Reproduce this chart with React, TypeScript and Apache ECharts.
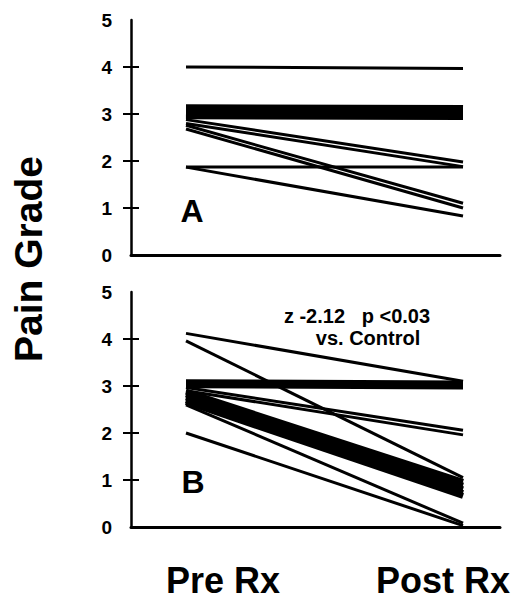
import React, { useEffect, useRef } from "react";
import * as echarts from "echarts";

// Pain grade per patient group, Pre Rx -> Post Rx (count = patients sharing the same course)
const panelAPre = [4.0, 3.05, 2.88, 2.8, 2.76, 2.68, 1.87, 1.87];
const panelAPost = [3.97, 3.03, 1.98, 1.88, 1.1, 1.0, 1.87, 0.83];
const panelACount = [1, 5, 1, 1, 1, 1, 1, 1];

const panelBPre = [4.12, 3.96, 3.05, 2.97, 2.9, 2.88, 2.82, 2.76, 2.7, 2.66, 2.6, 2.0];
const panelBPost = [3.1, 1.05, 3.02, 2.06, 1.96, 0.96, 0.88, 0.8, 0.72, 0.66, 0.08, 0.03];
const panelBCount = [1, 1, 3, 1, 1, 2, 2, 2, 2, 2, 1, 1];

const yTicks = [0, 1, 2, 3, 4, 5];
const innerTicks = [1, 2, 3, 4];
const timepoints = [1, 2]; // Pre Rx, Post Rx
const categoryLabels = ["Pre Rx", "Post Rx"];
const panelLabels = ["A", "B"];
const statLines = ["z -2.12   p <0.03", "vs. Control"];
const yTitle = "Pain Grade";

const FONT = '"Liberation Sans", Arial, Helvetica, sans-serif';

export default function App() {
  const ref = useRef<HTMLDivElement>(null);
  useEffect(() => {
    document.body.style.margin = "0";
    const chart = echarts.init(ref.current!, null, { renderer: "svg" });

    const grids = [
      { left: 131, top: 20, width: 369, height: 235 },
      { left: 131, top: 292, width: 369, height: 235 },
    ];

    const xAxes = grids.map((_, i) => ({
      type: "value",
      gridIndex: i,
      min: 0.8015,
      max: 2.1335,
      axisLine: { show: true, onZero: false, lineStyle: { color: "#000", width: 3 } },
      axisTick: { show: false },
      axisLabel: { show: false },
      splitLine: { show: false },
    }));

    const yAxes: any[] = [];
    grids.forEach((_, i) => {
      yAxes.push({
        type: "value",
        gridIndex: i,
        position: "left",
        min: yTicks[0],
        max: yTicks[yTicks.length - 1],
        interval: 1,
        axisLine: { show: true, lineStyle: { color: "#000", width: 2.5 } },
        axisTick: {
          show: true,
          length: 8,
          customValues: innerTicks,
          lineStyle: { color: "#000", width: 2 },
        },
        axisLabel: {
          color: "#000",
          fontFamily: FONT,
          fontWeight: "bold",
          fontSize: 19,
          margin: 19,
        },
        splitLine: { show: false },
      });
      yAxes.push({
        type: "value",
        gridIndex: i,
        position: "left",
        min: yTicks[0],
        max: yTicks[yTicks.length - 1],
        interval: 1,
        axisLine: { show: false },
        axisTick: {
          show: true,
          inside: true,
          length: 8,
          customValues: innerTicks,
          lineStyle: { color: "#000", width: 2 },
        },
        axisLabel: { show: false },
        splitLine: { show: false },
      });
    });

    const series: any[] = [];
    const addPanel = (pre: number[], post: number[], count: number[], gi: number) => {
      pre.forEach((p, k) => {
        series.push({
          type: "line",
          xAxisIndex: gi,
          yAxisIndex: gi * 2,
          symbol: "none",
          silent: true,
          lineStyle: { color: "#000", width: 3 * count[k] },
          data: [
            [timepoints[0], p],
            [timepoints[1], post[k]],
          ],
        });
      });
    };
    addPanel(panelAPre, panelAPost, panelACount, 0);
    addPanel(panelBPre, panelBPost, panelBCount, 1);

    const txt = (text: string, x: number, y: number, size: number, extra: any = {}) => ({
      type: "text",
      x,
      y,
      ...extra,
      style: {
        text,
        fontFamily: FONT,
        fontWeight: "bold",
        fontSize: size,
        fill: "#000",
        align: "center",
        verticalAlign: "middle",
      },
    });

    const graphic: any[] = [
      txt(yTitle, 28, 259, 39, { rotation: Math.PI / 2 }),
      txt(categoryLabels[0], 223, 580, 36),
      txt(categoryLabels[1], 443, 580, 36),
      txt(panelLabels[0], 192, 211, 32),
      txt(panelLabels[1], 193, 482, 32),
      txt(statLines[0], 357, 316, 20),
      txt(statLines[1], 368, 338, 20),
    ];

    chart.setOption({
      animation: false,
      backgroundColor: "#fff",
      grid: grids,
      xAxis: xAxes,
      yAxis: yAxes,
      series,
      graphic,
    });
    return () => chart.dispose();
  }, []);
  return <div ref={ref} style={{ width: 520, height: 600 }} />;
}
